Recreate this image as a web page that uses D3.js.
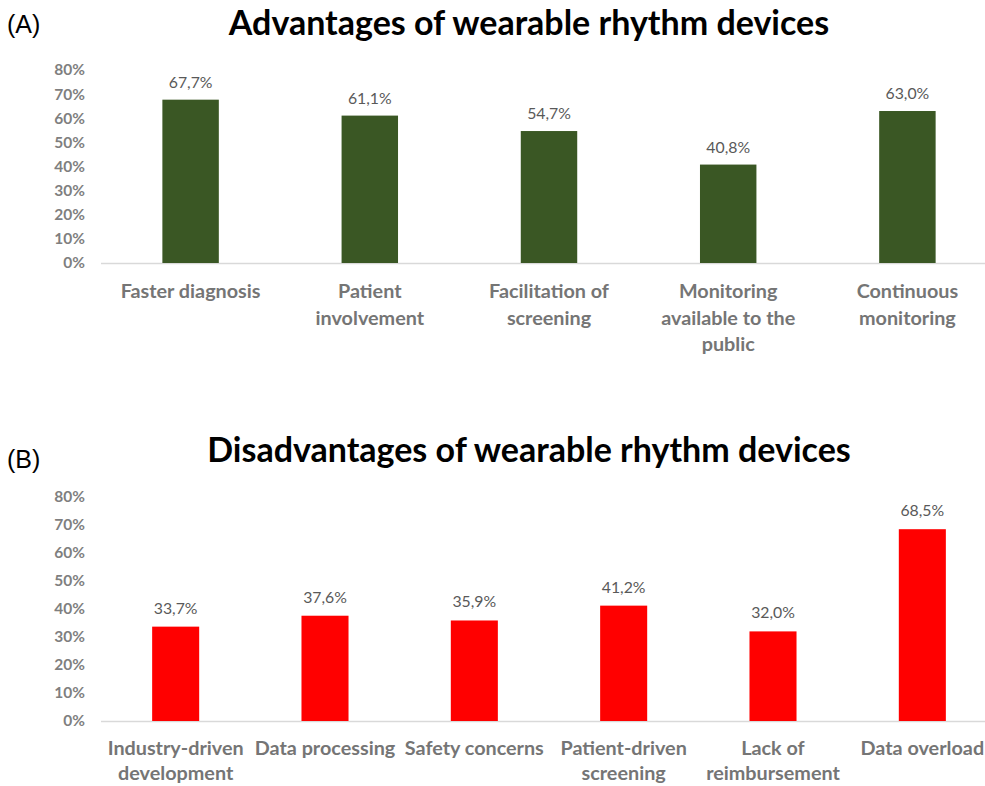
<!DOCTYPE html>
<html>
<head>
<meta charset="utf-8">
<style>
  body { margin: 0; background: white; }
  .tick-lab { font: bold 15.5px Lato, sans-serif; fill: #7f7f7f; }
  .cat-lab { font: bold 19.8px Lato, sans-serif; fill: #757575; }
  .val-lab { font: 15.8px Lato, sans-serif; fill: #595959; }
  .title { font: bold 34px Lato, sans-serif; fill: #000; }
  .panel { font: 25px "Liberation Sans", Arial, sans-serif; fill: #000; }
</style>
</head>
<body>
<svg width="985" height="786"></svg>
<script src="https://cdn.jsdelivr.net/npm/d3@7"></script>
<script>

// data
var advCategories = ["Faster diagnosis", "Patient\ninvolvement", "Facilitation of\nscreening",
                     "Monitoring\navailable to the\npublic", "Continuous\nmonitoring"];
var advValues = [0.677, 0.611, 0.547, 0.408, 0.630];

var disCategories = ["Industry-driven\ndevelopment", "Data processing", "Safety concerns",
                     "Patient-driven\nscreening", "Lack of\nreimbursement", "Data overload"];
var disValues = [0.337, 0.376, 0.359, 0.412, 0.320, 0.685];

var yTicks = [0, 0.1, 0.2, 0.3, 0.4, 0.5, 0.6, 0.7, 0.8];

var svg = d3.select("svg");

function drawPanel(opt) {
  var g = svg.append("g");

  var x = d3.scaleBand()
      .domain(opt.categories)
      .range([101, 997])
      .paddingInner(0.685)
      .paddingOuter(0.3425);

  var y = d3.scaleLinear()
      .domain([0, 0.8])
      .range([opt.bottom, opt.top]);

  // panel letter + title
  g.append("text").attr("class", "panel")
      .attr("x", 7).attr("y", opt.panelY)
      .text(opt.panel);
  g.append("text").attr("class", "title")
      .attr("x", 529).attr("y", opt.titleY)
      .attr("text-anchor", "middle")
      .text(opt.title);

  // y axis labels (no line)
  var yAxis = d3.axisLeft(y)
      .tickValues(yTicks)
      .tickFormat(d3.format(".0%"))
      .tickSize(0)
      .tickPadding(0);
  var ya = g.append("g")
      .attr("transform", "translate(85,0)")
      .call(yAxis);
  ya.select(".domain").remove();
  ya.selectAll("text").attr("class", "tick-lab").attr("font-size", null).attr("font-family", null);

  // baseline
  g.append("line")
      .attr("x1", 101).attr("x2", 985)
      .attr("y1", y(0) + 0.5).attr("y2", y(0) + 0.5)
      .attr("stroke", "#d9d9d9").attr("stroke-width", 1.3);

  // bars
  g.selectAll(".bar")
    .data(opt.values)
    .enter().append("rect")
      .attr("class", "bar")
      .attr("x", function(d, i) { return x(opt.categories[i]); })
      .attr("width", x.bandwidth())
      .attr("y", function(d) { return y(d); })
      .attr("height", function(d) { return y(0) - y(d); })
      .attr("fill", opt.color);

  // value labels
  g.selectAll(".val-lab")
    .data(opt.values)
    .enter().append("text")
      .attr("class", "val-lab")
      .attr("text-anchor", "middle")
      .attr("x", function(d, i) { return x(opt.categories[i]) + x.bandwidth() / 2; })
      .attr("y", function(d) { return y(d) - opt.valGap; })
      .text(function(d) { return d3.format(".1f")(d * 100).replace(".", ",") + "%"; });

  // category labels
  var cats = g.selectAll(".cat-lab")
    .data(opt.categories)
    .enter().append("text")
      .attr("class", "cat-lab")
      .attr("text-anchor", "middle")
      .attr("x", function(d) { return x(d) + x.bandwidth() / 2; })
      .attr("y", y(0) + opt.catGap);
  cats.each(function(d) {
    var t = d3.select(this);
    d.split("\n").forEach(function(line, k) {
      t.append("tspan")
        .attr("x", t.attr("x"))
        .attr("dy", k === 0 ? 0 : opt.lineH)
        .text(line);
    });
  });
}

drawPanel({
  categories: advCategories, values: advValues, color: "#3a5724",
  top: 70, bottom: 263, panel: "(A)", panelY: 33, title: "Advantages of wearable rhythm devices",
  titleY: 35, valGap: 12, catGap: 35, lineH: 26.5
});

drawPanel({
  categories: disCategories, values: disValues, color: "#ff0000",
  top: 497, bottom: 721, panel: "(B)", panelY: 468, title: "Disadvantages of wearable rhythm devices",
  titleY: 462, valGap: 13, catGap: 34, lineH: 25
});

</script>
</body>
</html>
